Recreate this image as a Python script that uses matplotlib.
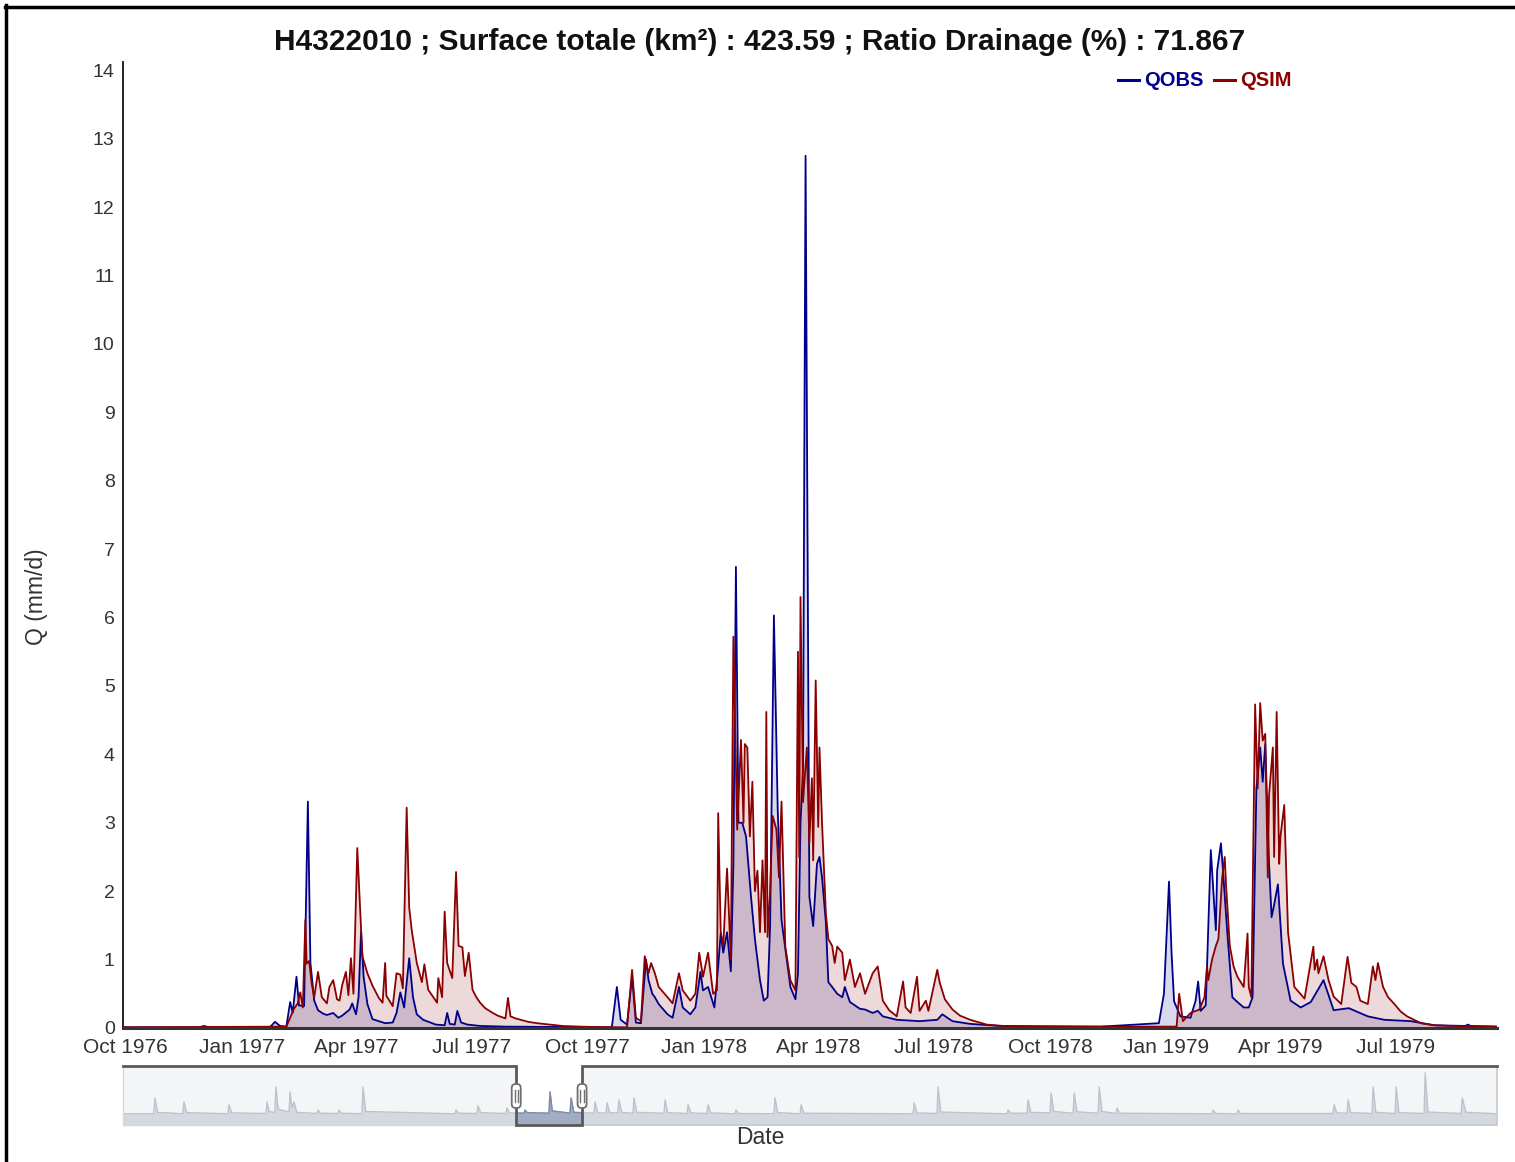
import numpy as np
import pandas as pd
import matplotlib
matplotlib.use("Agg")
import matplotlib.pyplot as plt
import matplotlib.dates as mdates
from matplotlib.lines import Line2D
from matplotlib.patches import FancyBboxPatch, Rectangle
from matplotlib.transforms import IdentityTransform

plt.rcParams['font.family'] = ['Liberation Sans', 'DejaVu Sans']

W, H = 1515, 1162

title = "H4322010 ; Surface totale (km²) : 423.59 ; Ratio Drainage (%) : 71.867"
station_period = ("1976-09-29", "1979-09-19")

# observed discharge (mm/d)
qobs_dates = [
    "1976-09-29", "1976-11-28", "1976-12-02", "1976-12-06", "1977-01-23", "1977-01-27", "1977-01-31",
    "1977-02-05", "1977-02-08", "1977-02-10", "1977-02-13", "1977-02-15", "1977-02-19", "1977-02-22",
    "1977-02-24", "1977-02-27", "1977-03-02", "1977-03-06", "1977-03-09", "1977-03-14", "1977-03-18",
    "1977-03-21", "1977-03-27", "1977-03-29", "1977-04-01", "1977-04-03", "1977-04-05", "1977-04-07",
    "1977-04-10", "1977-04-14", "1977-04-24", "1977-04-30", "1977-05-03", "1977-05-06", "1977-05-09",
    "1977-05-13", "1977-05-16", "1977-05-19", "1977-05-24", "1977-06-03", "1977-06-10", "1977-06-12",
    "1977-06-14", "1977-06-18", "1977-06-20", "1977-06-23", "1977-06-28", "1977-07-08", "1977-07-28",
    "1977-10-20", "1977-10-24", "1977-10-27", "1977-11-01", "1977-11-05", "1977-11-08", "1977-11-12",
    "1977-11-16", "1977-11-18", "1977-11-21", "1977-11-23", "1977-11-26", "1977-12-03", "1977-12-07",
    "1977-12-12", "1977-12-15", "1977-12-21", "1977-12-25", "1977-12-29", "1977-12-31", "1978-01-04",
    "1978-01-09", "1978-01-12", "1978-01-14", "1978-01-16", "1978-01-19", "1978-01-22", "1978-01-24",
    "1978-01-26", "1978-01-28", "1978-01-31", "1978-02-03", "1978-02-07", "1978-02-10", "1978-02-14",
    "1978-02-17", "1978-02-20", "1978-02-22", "1978-02-25", "1978-02-28", "1978-03-03", "1978-03-10",
    "1978-03-14", "1978-03-16", "1978-03-18", "1978-03-20", "1978-03-22", "1978-03-25", "1978-03-28",
    "1978-03-31", "1978-04-02", "1978-04-04", "1978-04-07", "1978-04-09", "1978-04-12", "1978-04-16",
    "1978-04-20", "1978-04-22", "1978-04-26", "1978-05-04", "1978-05-08", "1978-05-14", "1978-05-18",
    "1978-05-22", "1978-06-02", "1978-06-20", "1978-07-04", "1978-07-08", "1978-07-16", "1978-07-30",
    "1978-08-22", "1978-11-10", "1978-12-26", "1978-12-30", "1979-01-03", "1979-01-05", "1979-01-07",
    "1979-01-12", "1979-01-20", "1979-01-24", "1979-01-26", "1979-01-28", "1979-02-01", "1979-02-05",
    "1979-02-07", "1979-02-09", "1979-02-10", "1979-02-13", "1979-02-15", "1979-02-18", "1979-02-22",
    "1979-02-26", "1979-03-03", "1979-03-07", "1979-03-10", "1979-03-13", "1979-03-16", "1979-03-18",
    "1979-03-20", "1979-03-23", "1979-03-25", "1979-03-27", "1979-03-30", "1979-04-03", "1979-04-09",
    "1979-04-17", "1979-04-25", "1979-05-05", "1979-05-13", "1979-05-25", "1979-06-09", "1979-06-22",
    "1979-07-13", "1979-07-31", "1979-08-25", "1979-08-27", "1979-08-29", "1979-09-19",
]
qobs_values = [
    0.01, 0.01, 0.03, 0.01, 0.01, 0.09, 0.03,
    0.02, 0.38, 0.22, 0.75, 0.33, 0.32, 3.31,
    0.95, 0.40, 0.26, 0.21, 0.19, 0.22, 0.15,
    0.18, 0.27, 0.36, 0.20, 0.45, 1.41, 0.75,
    0.35, 0.13, 0.07, 0.08, 0.22, 0.52, 0.30,
    1.02, 0.45, 0.20, 0.12, 0.05, 0.04, 0.22,
    0.06, 0.05, 0.25, 0.08, 0.05, 0.03, 0.02,
    0.01, 0.60, 0.12, 0.05, 0.75, 0.08, 0.07,
    1.00, 0.70, 0.50, 0.45, 0.35, 0.20, 0.15,
    0.60, 0.30, 0.20, 0.30, 0.82, 0.55, 0.60,
    0.30, 0.90, 1.39, 1.10, 1.40, 0.83, 2.40,
    6.74, 3.00, 3.00, 2.80, 1.90, 1.30, 0.70,
    0.40, 0.45, 1.50, 6.03, 3.20, 1.58, 0.60,
    0.42, 0.80, 3.00, 3.80, 12.75, 1.92, 1.49,
    2.40, 2.50, 2.20, 1.55, 0.67, 0.60, 0.50,
    0.45, 0.60, 0.38, 0.28, 0.27, 0.22, 0.25,
    0.17, 0.12, 0.10, 0.12, 0.20, 0.10, 0.06,
    0.03, 0.02, 0.07, 0.50, 2.14, 1.10, 0.39,
    0.17, 0.15, 0.40, 0.68, 0.25, 0.33, 2.60,
    2.00, 1.43, 2.30, 2.70, 2.20, 1.40, 0.45,
    0.38, 0.30, 0.30, 0.45, 3.50, 4.10, 3.60,
    4.15, 2.40, 1.62, 1.80, 2.10, 0.94, 0.40,
    0.30, 0.38, 0.70, 0.26, 0.29, 0.17, 0.12,
    0.10, 0.04, 0.03, 0.05, 0.03, 0.02,
]

# simulated discharge (mm/d)
qsim_dates = [
    "1976-09-29", "1977-02-05", "1977-02-11", "1977-02-14", "1977-02-16", "1977-02-18", "1977-02-20",
    "1977-02-21", "1977-02-23", "1977-02-25", "1977-02-27", "1977-03-02", "1977-03-05", "1977-03-09",
    "1977-03-11", "1977-03-14", "1977-03-17", "1977-03-19", "1977-03-21", "1977-03-24", "1977-03-26",
    "1977-03-28", "1977-03-30", "1977-04-02", "1977-04-05", "1977-04-06", "1977-04-10", "1977-04-14",
    "1977-04-19", "1977-04-22", "1977-04-24", "1977-04-25", "1977-04-30", "1977-05-03", "1977-05-06",
    "1977-05-08", "1977-05-11", "1977-05-13", "1977-05-15", "1977-05-19", "1977-05-23", "1977-05-25",
    "1977-05-28", "1977-06-04", "1977-06-05", "1977-06-08", "1977-06-10", "1977-06-12", "1977-06-16",
    "1977-06-19", "1977-06-21", "1977-06-24", "1977-06-26", "1977-06-29", "1977-07-02", "1977-07-05",
    "1977-07-08", "1977-07-12", "1977-07-18", "1977-07-22", "1977-07-28", "1977-07-30", "1977-08-01",
    "1977-08-05", "1977-08-09", "1977-08-15", "1977-08-22", "1977-09-01", "1977-09-11", "1977-09-25",
    "1977-10-06", "1977-11-01", "1977-11-05", "1977-11-08", "1977-11-12", "1977-11-15", "1977-11-18",
    "1977-11-20", "1977-11-23", "1977-11-26", "1977-12-03", "1977-12-07", "1977-12-12", "1977-12-15",
    "1977-12-21", "1977-12-25", "1977-12-28", "1977-12-31", "1978-01-04", "1978-01-08", "1978-01-11",
    "1978-01-12", "1978-01-14", "1978-01-16", "1978-01-19", "1978-01-22", "1978-01-24", "1978-01-27",
    "1978-01-30", "1978-02-01", "1978-02-02", "1978-02-04", "1978-02-06", "1978-02-08", "1978-02-10",
    "1978-02-12", "1978-02-14", "1978-02-16", "1978-02-18", "1978-02-19", "1978-02-20", "1978-02-22",
    "1978-02-24", "1978-02-27", "1978-03-01", "1978-03-03", "1978-03-06", "1978-03-10", "1978-03-14",
    "1978-03-16", "1978-03-17", "1978-03-18", "1978-03-20", "1978-03-23", "1978-03-25", "1978-03-27",
    "1978-03-28", "1978-03-30", "1978-04-01", "1978-04-02", "1978-04-04", "1978-04-07", "1978-04-09",
    "1978-04-12", "1978-04-14", "1978-04-16", "1978-04-20", "1978-04-22", "1978-04-26", "1978-04-30",
    "1978-05-04", "1978-05-08", "1978-05-14", "1978-05-18", "1978-05-22", "1978-05-27", "1978-06-02",
    "1978-06-07", "1978-06-09", "1978-06-13", "1978-06-18", "1978-06-20", "1978-06-25", "1978-06-27",
    "1978-07-04", "1978-07-06", "1978-07-10", "1978-07-16", "1978-07-22", "1978-07-30", "1978-08-12",
    "1978-08-25", "1978-09-15", "1979-01-09", "1979-01-11", "1979-01-14", "1979-01-20", "1979-01-27",
    "1979-01-31", "1979-02-02", "1979-02-03", "1979-02-06", "1979-02-09", "1979-02-11", "1979-02-14",
    "1979-02-16", "1979-02-17", "1979-02-20", "1979-02-23", "1979-02-26", "1979-03-03", "1979-03-06",
    "1979-03-07", "1979-03-09", "1979-03-12", "1979-03-14", "1979-03-16", "1979-03-18", "1979-03-20",
    "1979-03-22", "1979-03-23", "1979-03-26", "1979-03-27", "1979-03-29", "1979-03-31", "1979-04-01",
    "1979-04-04", "1979-04-07", "1979-04-12", "1979-04-20", "1979-04-27", "1979-04-28", "1979-04-30",
    "1979-05-01", "1979-05-05", "1979-05-09", "1979-05-13", "1979-05-19", "1979-05-24", "1979-05-27",
    "1979-05-31", "1979-06-03", "1979-06-09", "1979-06-13", "1979-06-15", "1979-06-17", "1979-06-21",
    "1979-06-25", "1979-06-30", "1979-07-05", "1979-07-10", "1979-07-21", "1979-08-01", "1979-08-13",
    "1979-09-19",
]
qsim_values = [
    0.01, 0.02, 0.28, 0.36, 0.52, 0.30, 1.58,
    0.94, 0.98, 0.65, 0.45, 0.82, 0.45, 0.36,
    0.60, 0.70, 0.42, 0.40, 0.62, 0.82, 0.48,
    1.02, 0.50, 2.63, 1.43, 1.05, 0.80, 0.62,
    0.44, 0.37, 0.95, 0.47, 0.32, 0.80, 0.78,
    0.58, 3.22, 1.76, 1.43, 0.95, 0.67, 0.93,
    0.56, 0.37, 0.73, 0.45, 1.70, 0.95, 0.73,
    2.28, 1.20, 1.18, 0.76, 1.10, 0.56, 0.45,
    0.37, 0.29, 0.22, 0.18, 0.14, 0.44, 0.17,
    0.14, 0.12, 0.09, 0.07, 0.05, 0.03, 0.02,
    0.015, 0.01, 0.85, 0.15, 0.10, 1.05, 0.80,
    0.95, 0.80, 0.60, 0.45, 0.36, 0.80, 0.55,
    0.40, 0.50, 1.10, 0.75, 1.10, 0.50, 0.55,
    3.14, 1.40, 1.20, 2.33, 1.00, 5.72, 2.90,
    4.21, 3.00, 4.15, 4.10, 2.80, 3.60, 2.00,
    2.30, 1.40, 2.45, 1.40, 4.62, 1.33, 2.00,
    3.10, 2.90, 2.20, 3.31, 1.19, 0.70, 0.55,
    5.50, 2.50, 6.30, 3.30, 4.10, 2.70, 3.65,
    2.45, 5.08, 2.94, 4.10, 3.00, 1.68, 1.30,
    1.20, 0.95, 1.19, 1.10, 0.70, 1.00, 0.60,
    0.80, 0.50, 0.80, 0.90, 0.40, 0.26, 0.17,
    0.68, 0.30, 0.22, 0.75, 0.25, 0.40, 0.25,
    0.85, 0.66, 0.42, 0.27, 0.18, 0.12, 0.05,
    0.03, 0.02, 0.02, 0.50, 0.10, 0.22, 0.27,
    0.45, 0.90, 0.70, 1.00, 1.20, 1.30, 2.20,
    2.50, 2.10, 1.20, 0.90, 0.75, 0.60, 1.38,
    0.60, 0.45, 4.73, 3.50, 4.75, 4.20, 4.30,
    2.20, 3.40, 4.10, 2.50, 4.62, 2.40, 2.80,
    3.26, 1.40, 0.60, 0.43, 1.19, 0.85, 1.00,
    0.80, 1.05, 0.70, 0.46, 0.35, 1.04, 0.66,
    0.60, 0.40, 0.35, 0.90, 0.70, 0.95, 0.60,
    0.45, 0.35, 0.24, 0.17, 0.07, 0.04, 0.03,
    0.02,
]

# full record shown in the range selector (decimal years, mm/d)
nav_years = [
    1959.00, 1960.39, 1960.44, 1960.56, 1961.70, 1961.75, 1961.87, 1963.73, 1963.78, 1963.90,
    1965.45, 1965.50, 1965.60, 1965.85, 1965.90, 1966.00, 1966.49, 1966.54, 1966.62, 1966.72,
    1966.84, 1967.75, 1967.80, 1967.90, 1968.70, 1968.75, 1968.85, 1969.78, 1969.83, 1969.95,
    1973.98, 1974.03, 1974.13, 1974.97, 1975.02, 1975.14, 1976.28, 1976.33, 1976.43, 1977.10,
    1977.14, 1977.24, 1978.22, 1978.27, 1978.37, 1979.17, 1979.22, 1979.34, 1980.25, 1980.30,
    1980.42, 1980.79, 1980.84, 1980.96, 1981.33, 1981.38, 1981.50, 1982.01, 1982.06, 1982.18,
    1983.41, 1983.46, 1983.58, 1984.45, 1984.50, 1984.62, 1985.35, 1985.40, 1985.52, 1986.61,
    1986.66, 1986.76, 1988.37, 1988.42, 1988.54, 1989.55, 1989.60, 1989.72, 1994.65, 1994.70,
    1994.82, 1995.73, 1995.78, 1995.90, 1998.89, 1998.94, 1999.04, 1999.79, 1999.84, 1999.96,
    2000.83, 2000.88, 2001.00, 2001.87, 2001.92, 2002.04, 2003.00, 2003.05, 2003.17, 2003.81,
    2003.86, 2003.96, 2008.14, 2008.19, 2008.29, 2009.27, 2009.32, 2009.42, 2013.60, 2013.65,
    2013.77, 2014.23, 2014.28, 2014.40, 2015.36, 2015.41, 2015.53, 2016.40, 2016.45, 2016.57,
    2017.71, 2017.76, 2017.88, 2019.38, 2019.43, 2019.60, 2021.00,
]
nav_values = [
    0.4, 0.4, 5.9, 0.9, 0.4, 4.5, 0.8, 0.4, 3.5, 0.7,
    0.5, 4.5, 1.2, 0.8, 9.7, 2.0, 1.0, 8.0, 2.5, 4.5,
    0.9, 0.5, 1.7, 0.6, 0.5, 1.7, 0.6, 0.4, 9.7, 1.2,
    0.4, 1.7, 0.6, 0.5, 3.1, 0.8, 0.5, 2.4, 0.7, 0.6,
    1.7, 0.8, 0.6, 8.0, 1.4, 0.6, 5.9, 0.9, 0.6, 4.5,
    0.8, 0.6, 4.2, 0.8, 0.7, 5.2, 0.9, 0.6, 5.9, 0.9,
    0.6, 5.2, 0.8, 0.5, 3.5, 0.7, 0.5, 3.5, 0.7, 0.4,
    1.7, 0.5, 0.4, 5.9, 0.8, 0.4, 3.5, 0.6, 0.4, 4.2,
    0.7, 0.5, 9.7, 1.0, 0.4, 1.7, 0.6, 0.6, 5.2, 0.9,
    0.7, 7.6, 1.2, 0.6, 7.6, 1.1, 0.6, 9.7, 1.2, 0.5,
    2.4, 0.6, 0.4, 1.7, 0.5, 0.4, 1.7, 0.5, 0.5, 3.5,
    0.7, 0.6, 5.2, 0.8, 0.5, 9.7, 0.9, 0.5, 9.7, 0.8,
    0.5, 14.6, 1.0, 0.5, 5.9, 0.9, 0.4,
]

obs_color = "#00008B"
sim_color = "#8B0000"

qobs_t = pd.to_datetime(qobs_dates)
qsim_t = pd.to_datetime(qsim_dates)
t_start, t_end = pd.to_datetime(station_period[0]), pd.to_datetime(station_period[1])

fig = plt.figure(figsize=(W / 100, H / 100), dpi=100)
fig.patch.set_facecolor("white")

# main hydrograph
ax = fig.add_axes([123 / W, 1 - 1028 / H, 1374 / W, (1028 - 62) / H])
ax.fill_between(qobs_t, qobs_values, 0, color=obs_color, alpha=0.15, lw=0)
ax.plot(qobs_t, qobs_values, color=obs_color, lw=1.3)
ax.fill_between(qsim_t, qsim_values, 0, color=sim_color, alpha=0.15, lw=0)
ax.plot(qsim_t, qsim_values, color=sim_color, lw=1.3)

ax.set_xlim(t_start, t_end)
ax.set_ylim(0, 14.12)
ax.set_yticks(range(0, 15))
ticks = pd.date_range("1976-10-01", "1979-07-01", freq="QS-OCT")
ax.set_xticks(ticks)
ax.set_xticklabels([t.strftime("%b %Y") for t in ticks])
ax.tick_params(axis="x", length=0, pad=7, labelsize=15, labelcolor="#333333")
ax.tick_params(axis="y", length=0, pad=6, labelsize=14, labelcolor="#333333")
for side in ["top", "right"]:
    ax.spines[side].set_visible(False)
ax.spines["left"].set_color("#222222")
ax.spines["left"].set_linewidth(1.4)
ax.spines["bottom"].set_color("#333333")
ax.spines["bottom"].set_linewidth(2.2)

fig.text(37 / W, 1 - 597 / H, "Q (mm/d)", rotation=90, ha="center", va="center",
         fontsize=16.5, color="#333333")
fig.text(760 / W, 1 - 42 / H, title, ha="center", va="center",
         fontsize=21.5, fontweight="bold", color="#111111")

# legend
for x0, x1, tx, lab, col in [(1118, 1139, 1144, "QOBS", obs_color), (1214, 1235, 1240, "QSIM", sim_color)]:
    fig.add_artist(Line2D([x0 / W, x1 / W], [1 - 80 / H, 1 - 80 / H], color=col, lw=2.2))
    fig.text(tx / W, 1 - 80 / H, lab, ha="left", va="center", fontsize=14.5,
             fontweight="bold", color=col)

# range selector
nav = fig.add_axes([123 / W, 1 - 1125 / H, 1374 / W, 59 / H])
nav_t = pd.to_datetime("1959-01-01") + pd.to_timedelta((np.array(nav_years) - 1959.0) * 365.25, unit="D")
nav.set_xlim(pd.to_datetime("1959-01-01"), pd.to_datetime("2020-12-31"))
nav.set_ylim(-3.5, 17)
nav.set_facecolor("#f4f5f7")
nav.axvspan(t_start, t_end, color="white", lw=0, zorder=0)
nav.fill_between(nav_t, nav_values, -3.5, color="#d4d9e0", lw=0, zorder=1)
nav.plot(nav_t, nav_values, color="#bcc3cd", lw=1, zorder=2)
sel = Rectangle((mdates.date2num(t_start), -3.5), mdates.date2num(t_end) - mdates.date2num(t_start), 20.5,
                transform=nav.transData, visible=False)
nav.add_patch(sel)
f_sel = nav.fill_between(nav_t, nav_values, -3.5, color="#a2adc3", lw=0, zorder=3)
f_sel.set_clip_path(sel)
l_sel, = nav.plot(nav_t, nav_values, color="#7d8aa8", lw=1, zorder=4)
l_sel.set_clip_path(sel)
nav.set_xticks([])
nav.set_yticks([])
for s in nav.spines.values():
    s.set_visible(False)

x0n, x1n = nav.get_xlim()
xs0, xs1 = mdates.date2num(t_start), mdates.date2num(t_end)
nav.plot([x1n, x1n, xs1], [17, -3.5, -3.5], color="#c6c9ce", lw=1.2, zorder=5, clip_on=False)
nav.plot([x0n, x0n, xs0], [17, -3.5, -3.5], color="#d6d8dc", lw=1.0, zorder=5, clip_on=False)
nav.plot([x0n, xs0, xs0, xs1, xs1, x1n], [17, 17, -3.5, -3.5, 17, 17],
         color="#5a5a5a", lw=2.0, zorder=6, clip_on=False, solid_joinstyle="miter")

# selector handles
for xd in (xs0, xs1):
    xc, _ = nav.transData.transform((xd, 0))
    yb = H - 1108
    fig.add_artist(FancyBboxPatch((xc - 4.5, yb), 9, 24, boxstyle="round,pad=0,rounding_size=4",
                                  transform=IdentityTransform(), fc="white", ec="#6f6f6f", lw=1.3))
    for dx in (-1.6, 1.6):
        fig.add_artist(Line2D([xc + dx, xc + dx], [yb + 6, yb + 18], transform=IdentityTransform(),
                              color="#6f6f6f", lw=1.0))

fig.text(760 / W, 1 - 1138 / H, "Date", ha="center", va="center", fontsize=16.5, color="#333333")

# outer frame
fig.add_artist(Line2D([6 / W, 6 / W], [0, 1 - 5 / H], color="black", lw=2.5))
fig.add_artist(Line2D([5 / W, 1], [1 - 6.5 / H, 1 - 6.5 / H], color="black", lw=2.5))

fig.savefig("out.png", dpi=100)
